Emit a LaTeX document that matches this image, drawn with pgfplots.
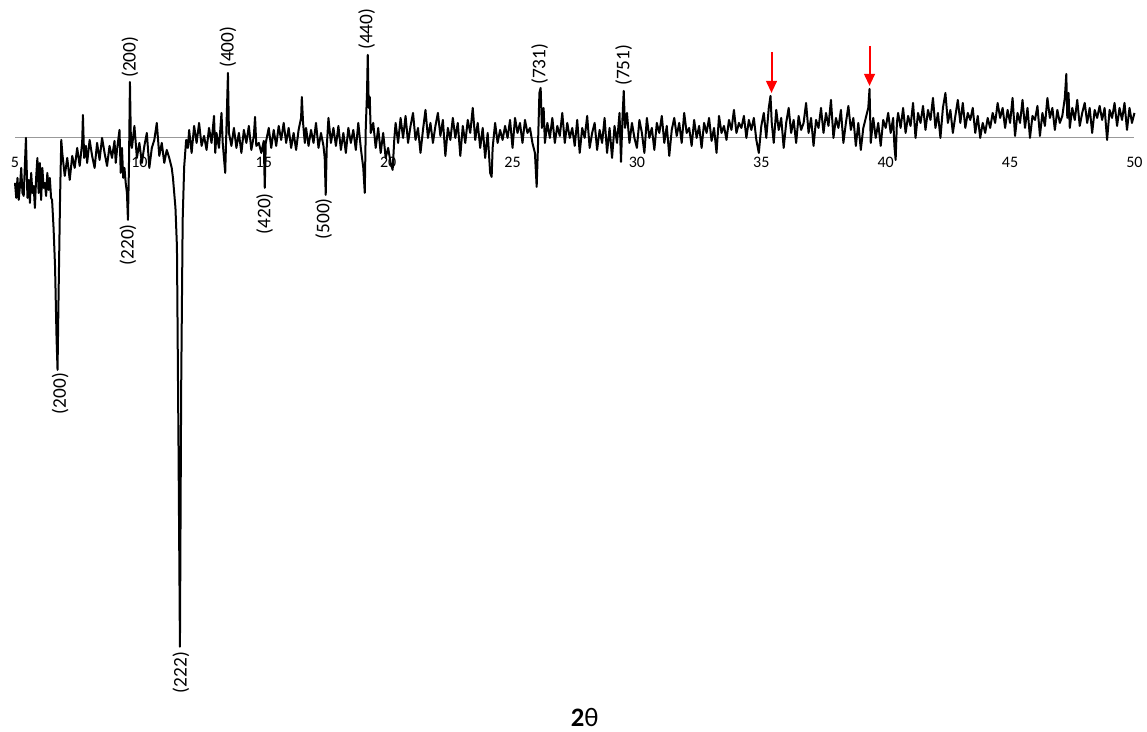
\documentclass[border=0pt]{standalone}
\usepackage{fontspec}
\setmainfont{Carlito}
\usepackage{pgfplots}
\pgfplotsset{compat=1.18}
\usetikzlibrary{arrows.meta}

\begin{document}
\begin{tikzpicture}
  \begin{axis}[scale only axis, width=840pt, height=523.5pt,
    xmin=5, xmax=50, ymin=-560, ymax=138,
    axis x line*=middle, axis y line=none, ytick=\empty,
    x axis line style={draw=gray!80, line width=0.75pt},
    xtick={5,10,...,50}, major tick length=0pt,
    xticklabel style={font=\fontsize{12}{14}\selectfont, yshift=-11pt},
    /pgf/number format/assume math mode=true,
    clip=false]
    % intensity difference, arbitrary units (0 = axis line)
    \addplot[black, line width=1.5pt, line join=round] coordinates {
      (5.00,-45) (5.05,-60) (5.10,-40) (5.15,-62) (5.20,-48) (5.25,-30) (5.30,-55) (5.35,-58)
      (5.44,0) (5.50,-60) (5.55,-42) (5.60,-65) (5.65,-35) (5.70,-55) (5.75,-48) (5.80,-70)
      (5.85,-40) (5.90,-20) (5.95,-55) (6.00,-25) (6.05,-62) (6.10,-30) (6.15,-50) (6.20,-45)
      (6.25,-58) (6.30,-35) (6.35,-52) (6.40,-40) (6.45,-60) (6.49,-62) (6.55,-90) (6.61,-129)
      (6.67,-200) (6.71,-232) (6.75,-160) (6.81,-62) (6.86,-2) (6.90,-15) (7.00,-38) (7.10,-20)
      (7.20,-42) (7.30,-18) (7.40,-30) (7.50,-10) (7.60,-28) (7.70,-5) (7.73,23) (7.78,-20)
      (7.85,-8) (7.90,-25) (8.00,-2) (8.10,-18) (8.20,-30) (8.30,-5) (8.40,-22) (8.50,0)
      (8.60,-15) (8.70,-28) (8.80,-8) (8.90,-20) (9.00,-3) (9.05,-25) (9.10,-12) (9.20,8)
      (9.25,-35) (9.30,-10) (9.35,-40) (9.40,-30) (9.45,-45) (9.50,-55) (9.54,-82) (9.58,-30)
      (9.62,56) (9.66,-5) (9.70,-10) (9.80,12) (9.90,-20) (10.00,-5) (10.10,-25) (10.20,-8)
      (10.30,5) (10.40,-30) (10.50,-10) (10.60,-2) (10.70,15) (10.80,-18) (10.90,-5) (11.00,-25)
      (11.10,-12) (11.20,-20) (11.30,-30) (11.35,-40) (11.45,-70) (11.51,-109) (11.57,-300)
      (11.63,-509) (11.68,-250) (11.74,-82) (11.80,-29) (11.88,-2) (11.95,-10) (12.00,8)
      (12.10,-15) (12.20,12) (12.30,-5) (12.40,15) (12.50,-8) (12.60,2) (12.70,-12) (12.80,10)
      (12.90,-5) (13.00,22) (13.05,-15) (13.10,5) (13.20,-10) (13.30,25) (13.35,-5) (13.45,-35)
      (13.50,10) (13.56,65) (13.60,5) (13.70,-8) (13.80,10) (13.90,-10) (14.00,5) (14.10,-15)
      (14.20,8) (14.30,-5) (14.40,12) (14.50,-12) (14.60,2) (14.65,21) (14.70,-8) (14.80,-5)
      (14.90,-15) (15.00,-3) (15.04,-50) (15.08,-5) (15.20,10) (15.30,-10) (15.40,8) (15.50,-8)
      (15.60,12) (15.70,-2) (15.80,15) (15.90,-5) (16.00,10) (16.10,-10) (16.20,5) (16.30,-12)
      (16.40,8) (16.50,20) (16.53,41) (16.58,15) (16.65,-5) (16.70,10) (16.80,-8) (16.90,8)
      (17.00,-5) (17.10,15) (17.20,-10) (17.30,5) (17.40,-8) (17.45,-20) (17.49,-57) (17.53,-10)
      (17.60,20) (17.70,-5) (17.80,10) (17.90,-8) (18.00,12) (18.10,-12) (18.20,5) (18.30,-15)
      (18.40,10) (18.50,-5) (18.60,8) (18.70,-12) (18.80,15) (18.90,-10) (18.95,-20) (19.00,-30)
      (19.06,-55) (19.10,10) (19.15,45) (19.18,83) (19.22,30) (19.26,41) (19.30,5) (19.40,15)
      (19.50,-10) (19.60,10) (19.70,-15) (19.80,5) (19.90,-20) (20.00,-10) (20.10,-25) (20.18,-32)
      (20.25,0) (20.30,15) (20.40,-5) (20.50,20) (20.60,0) (20.70,22) (20.80,-5) (20.90,12)
      (21.00,25) (21.10,-2) (21.20,10) (21.30,-15) (21.40,8) (21.50,28) (21.60,0) (21.70,15)
      (21.80,-5) (21.90,12) (22.00,25) (22.10,2) (22.20,18) (22.30,-18) (22.40,10) (22.50,-2)
      (22.60,20) (22.70,0) (22.80,15) (22.90,-18) (23.00,12) (23.10,-5) (23.20,18) (23.30,5)
      (23.40,30) (23.50,-2) (23.60,15) (23.70,-10) (23.80,10) (23.90,-20) (24.00,5) (24.10,-35)
      (24.16,-39) (24.20,-10) (24.30,15) (24.40,-5) (24.50,8) (24.60,-2) (24.70,12) (24.80,0)
      (24.90,18) (25.00,-10) (25.10,20) (25.20,5) (25.30,15) (25.40,-5) (25.50,18) (25.60,5)
      (25.70,10) (25.80,-5) (25.90,-15) (25.97,-49) (26.02,-10) (26.08,45) (26.13,50) (26.18,10)
      (26.25,30) (26.30,-5) (26.40,15) (26.50,0) (26.60,20) (26.70,-5) (26.80,12) (26.90,2)
      (27.00,25) (27.10,-5) (27.20,15) (27.30,0) (27.40,10) (27.50,-8) (27.60,18) (27.70,-15)
      (27.80,10) (27.90,0) (28.00,22) (28.10,-10) (28.20,5) (28.30,15) (28.40,-12) (28.50,8)
      (28.60,-5) (28.70,20) (28.80,-15) (28.90,10) (29.00,-20) (29.10,12) (29.20,-5) (29.30,25)
      (29.36,-24) (29.42,20) (29.47,47) (29.52,10) (29.60,25) (29.70,-5) (29.80,15) (29.90,0)
      (30.00,-10) (30.10,18) (30.20,5) (30.30,-15) (30.40,20) (30.50,0) (30.60,10) (30.70,-12)
      (30.80,15) (30.90,5) (31.00,22) (31.10,-5) (31.20,12) (31.30,-18) (31.40,8) (31.50,20)
      (31.60,2) (31.70,15) (31.80,-5) (31.90,25) (32.00,5) (32.10,10) (32.20,-8) (32.30,18)
      (32.40,0) (32.50,12) (32.60,-10) (32.70,15) (32.80,5) (32.90,20) (33.00,-3) (33.10,10)
      (33.20,-15) (33.30,22) (33.40,5) (33.50,12) (33.60,-2) (33.70,18) (33.80,8) (33.90,28)
      (34.00,5) (34.10,15) (34.20,10) (34.30,22) (34.40,0) (34.50,18) (34.60,8) (34.70,20)
      (34.80,-2) (34.90,-15) (35.00,12) (35.10,25) (35.20,0) (35.30,30) (35.37,42) (35.42,15)
      (35.50,-5) (35.60,28) (35.70,8) (35.80,20) (35.90,-10) (36.00,15) (36.10,30) (36.20,5)
      (36.30,18) (36.40,-5) (36.50,22) (36.60,8) (36.70,15) (36.80,35) (36.90,5) (37.00,20)
      (37.10,-8) (37.20,18) (37.30,10) (37.40,30) (37.50,5) (37.60,25) (37.70,12) (37.80,38)
      (37.90,0) (38.00,20) (38.10,10) (38.20,28) (38.30,-5) (38.40,15) (38.50,32) (38.60,8)
      (38.70,20) (38.80,-8) (38.90,15) (39.00,-12) (39.10,10) (39.20,20) (39.30,30) (39.35,49)
      (39.40,-5) (39.50,20) (39.60,0) (39.70,15) (39.80,-8) (39.90,18) (40.00,10) (40.10,25)
      (40.20,5) (40.30,20) (40.35,-8) (40.40,-22) (40.45,15) (40.50,25) (40.60,10) (40.70,30)
      (40.80,5) (40.90,22) (41.00,12) (41.10,35) (41.20,0) (41.30,25) (41.40,15) (41.50,32)
      (41.60,8) (41.70,28) (41.80,18) (41.90,40) (42.00,10) (42.10,25) (42.20,0) (42.30,30)
      (42.40,45) (42.50,15) (42.60,28) (42.70,5) (42.80,22) (42.90,38) (43.00,15) (43.10,35)
      (43.20,10) (43.30,25) (43.40,18) (43.50,30) (43.60,5) (43.70,22) (43.80,0) (43.90,15)
      (44.00,5) (44.10,20) (44.20,10) (44.30,25) (44.40,15) (44.50,35) (44.60,20) (44.70,30)
      (44.80,10) (44.90,28) (45.00,15) (45.10,40) (45.20,2) (45.30,25) (45.40,15) (45.50,38)
      (45.60,10) (45.70,30) (45.80,0) (45.90,22) (46.00,18) (46.10,32) (46.20,2) (46.30,25)
      (46.40,12) (46.50,40) (46.60,20) (46.70,30) (46.80,8) (46.90,28) (47.00,15) (47.10,22)
      (47.20,40) (47.26,64) (47.30,20) (47.35,45) (47.40,10) (47.50,30) (47.60,18) (47.70,38)
      (47.80,12) (47.90,25) (48.00,35) (48.10,15) (48.20,30) (48.30,5) (48.40,28) (48.50,20)
      (48.60,32) (48.70,18) (48.80,30) (48.90,-2) (49.00,28) (49.10,20) (49.20,35) (49.30,12)
      (49.40,30) (49.50,18) (49.60,35) (49.70,8) (49.80,30) (49.90,15) (50.00,25)
    };
    % peak labels
    \begin{scope}[every node/.style={rotate=90, inner sep=0pt, font=\fontsize{14.5}{16}\selectfont}]
      \node[anchor=west] at (axis cs:9.62,60) {(200)};
      \node[anchor=west] at (axis cs:13.56,70) {(400)};
      \node[anchor=west] at (axis cs:19.14,88) {(440)};
      \node[anchor=west] at (axis cs:26.09,53) {(731)};
      \node[anchor=west] at (axis cs:29.47,52) {(751)};
      \node[anchor=east] at (axis cs:9.54,-86) {(220)};
      \node[anchor=east] at (axis cs:15.04,-55) {(420)};
      \node[anchor=east] at (axis cs:17.41,-60) {(500)};
      \node[anchor=east] at (axis cs:6.81,-235) {(200)};
      \node[anchor=east] at (axis cs:11.67,-514) {(222)};
    \end{scope}
    \draw[red, line width=1.5pt, -{Triangle[width=8pt,length=9pt]}] (axis cs:35.41,86) -- (axis cs:35.41,45);
    \draw[red, line width=1.5pt, -{Triangle[width=8pt,length=9pt]}] (axis cs:39.35,92) -- (axis cs:39.35,52);
    \node[font=\fontsize{20}{24}\selectfont] at (axis cs:27.9,-580) {\textbf{2}θ};
    \path (axis cs:4.397,138) rectangle (axis cs:50.48,-594);
  \end{axis}
\end{tikzpicture}
\end{document}
